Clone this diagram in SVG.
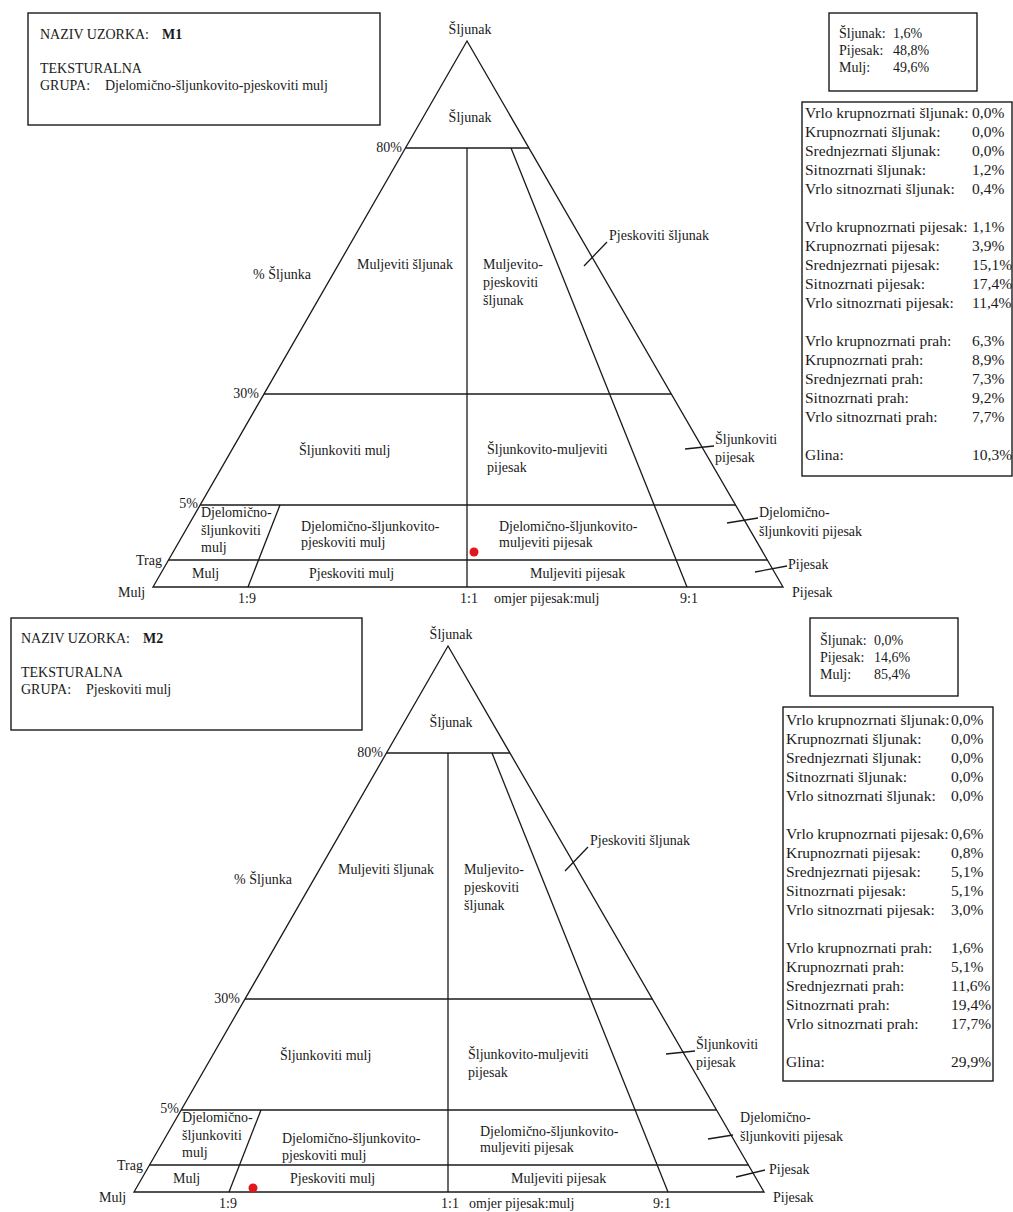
<svg xmlns="http://www.w3.org/2000/svg" width="1013" height="1212" viewBox="0 0 1013 1212">
<style>
text{font-family:"Liberation Serif","Times New Roman",serif;fill:#1a1a1a}
.t{font-size:14px}
.s{font-size:15.5px}
.b{font-weight:bold}
.ln{stroke:#1a1a1a;stroke-width:1.3;fill:none}
.box{stroke:#1a1a1a;stroke-width:1.4;fill:#fff}
.dot{fill:#e3161e}
.m{text-anchor:middle}
.e{text-anchor:end}
</style>
<rect width="1013" height="1212" fill="#fff"/>

<!-- ===== Panel M1 ===== -->
<g id="panel-m1">
  <g id="info-m1">
    <rect class="box" x="28" y="13" width="352" height="112"/>
    <text class="t" x="40" y="39">NAZIV UZORKA: <tspan class="b" x="162">M1</tspan></text>
    <text class="t" x="40" y="73">TEKSTURALNA</text>
    <text class="t" x="40" y="90">GRUPA: <tspan x="105">Djelomično-šljunkovito-pjeskoviti mulj</tspan></text>
  </g>
  <g id="fractions-m1">
    <rect class="box" x="829" y="13" width="148" height="78"/>
    <text class="t" x="839" y="38">Šljunak:</text><text class="t" x="893" y="38">1,6%</text>
    <text class="t" x="839" y="55">Pijesak:</text><text class="t" x="893" y="55">48,8%</text>
    <text class="t" x="839" y="72">Mulj:</text><text class="t" x="893" y="72">49,6%</text>
  </g>
  <g id="classes-m1">
    <rect class="box" x="802" y="102" width="210" height="374"/>
    <text class="s" x="805" y="118">Vrlo krupnozrnati šljunak:</text><text class="s" x="972" y="118">0,0%</text>
    <text class="s" x="805" y="137">Krupnozrnati šljunak:</text><text class="s" x="972" y="137">0,0%</text>
    <text class="s" x="805" y="156">Srednjezrnati šljunak:</text><text class="s" x="972" y="156">0,0%</text>
    <text class="s" x="805" y="175">Sitnozrnati šljunak:</text><text class="s" x="972" y="175">1,2%</text>
    <text class="s" x="805" y="194">Vrlo sitnozrnati šljunak:</text><text class="s" x="972" y="194">0,4%</text>
    <text class="s" x="805" y="232">Vrlo krupnozrnati pijesak:</text><text class="s" x="972" y="232">1,1%</text>
    <text class="s" x="805" y="251">Krupnozrnati pijesak:</text><text class="s" x="972" y="251">3,9%</text>
    <text class="s" x="805" y="270">Srednjezrnati pijesak:</text><text class="s" x="972" y="270">15,1%</text>
    <text class="s" x="805" y="289">Sitnozrnati pijesak:</text><text class="s" x="972" y="289">17,4%</text>
    <text class="s" x="805" y="308">Vrlo sitnozrnati pijesak:</text><text class="s" x="972" y="308">11,4%</text>
    <text class="s" x="805" y="346">Vrlo krupnozrnati prah:</text><text class="s" x="972" y="346">6,3%</text>
    <text class="s" x="805" y="365">Krupnozrnati prah:</text><text class="s" x="972" y="365">8,9%</text>
    <text class="s" x="805" y="384">Srednjezrnati prah:</text><text class="s" x="972" y="384">7,3%</text>
    <text class="s" x="805" y="403">Sitnozrnati prah:</text><text class="s" x="972" y="403">9,2%</text>
    <text class="s" x="805" y="422">Vrlo sitnozrnati prah:</text><text class="s" x="972" y="422">7,7%</text>
    <text class="s" x="805" y="460">Glina:</text><text class="s" x="972" y="460">10,3%</text>
  </g>
  <g id="connectors-m1">
    <polygon class="ln" points="467,41 153,587 783,587"/>
    <line class="ln" x1="405.5" y1="148" x2="528.9" y2="148"/>
    <line class="ln" x1="264" y1="394" x2="671.3" y2="394"/>
    <line class="ln" x1="200.2" y1="505" x2="735.6" y2="505"/>
    <line class="ln" x1="168.5" y1="560" x2="767.4" y2="560"/>
    <line class="ln" x1="467" y1="148" x2="467" y2="587"/>
    <line class="ln" x1="511" y1="148" x2="687" y2="587"/>
    <line class="ln" x1="280" y1="505" x2="248" y2="587"/>
    <line class="ln" x1="584" y1="266" x2="607" y2="242"/>
    <line class="ln" x1="685" y1="449" x2="714" y2="446"/>
    <line class="ln" x1="727" y1="523" x2="758" y2="518"/>
    <line class="ln" x1="755" y1="572" x2="787" y2="566"/>
  </g>
  <g id="labels-m1">
    <text class="t m" x="470" y="34">Šljunak</text>
    <text class="t m" x="470" y="122">Šljunak</text>
    <text class="t e" x="402" y="152">80%</text>
    <text class="t" x="253" y="279">% Šljunka</text>
    <text class="t" x="357" y="269">Muljeviti šljunak</text>
    <text class="t" x="483" y="269">Muljevito-</text>
    <text class="t" x="483" y="287">pjeskoviti</text>
    <text class="t" x="483" y="305">šljunak</text>
    <text class="t" x="609" y="240">Pjeskoviti šljunak</text>
    <text class="t e" x="259" y="398">30%</text>
    <text class="t" x="299" y="455">Šljunkoviti mulj</text>
    <text class="t" x="487" y="454">Šljunkovito-muljeviti</text>
    <text class="t" x="487" y="472">pijesak</text>
    <text class="t" x="715" y="444">Šljunkoviti</text>
    <text class="t" x="715" y="462">pijesak</text>
    <text class="t e" x="198" y="508">5%</text>
    <text class="t" x="201" y="517">Djelomično-</text>
    <text class="t" x="201" y="535">šljunkoviti</text>
    <text class="t" x="201" y="552">mulj</text>
    <text class="t" x="301" y="531">Djelomično-šljunkovito-</text>
    <text class="t" x="301" y="547">pjeskoviti mulj</text>
    <text class="t" x="499" y="531">Djelomično-šljunkovito-</text>
    <text class="t" x="499" y="547">muljeviti pijesak</text>
    <text class="t" x="759" y="517">Djelomično-</text>
    <text class="t" x="759" y="536">šljunkoviti pijesak</text>
    <text class="t" x="136" y="565">Trag</text>
    <text class="t" x="192" y="578">Mulj</text>
    <text class="t" x="309" y="578">Pjeskoviti mulj</text>
    <text class="t" x="530" y="578">Muljeviti pijesak</text>
    <text class="t" x="788" y="569">Pijesak</text>
    <text class="t" x="118" y="597">Mulj</text>
    <text class="t" x="238" y="603">1:9</text>
    <text class="t" x="460" y="603">1:1</text>
    <text class="t" x="494" y="603">omjer pijesak:mulj</text>
    <text class="t" x="680" y="603">9:1</text>
    <text class="t" x="792" y="597">Pijesak</text>
  </g>
  <circle id="sample-m1" class="dot" cx="474" cy="552" r="4.5"/>
</g>

<!-- ===== Panel M2 ===== -->
<g id="panel-m2" transform="translate(-19,605)">
  <g id="info-m2">
    <rect class="box" x="30" y="13" width="351" height="112"/>
    <text class="t" x="40" y="38">NAZIV UZORKA: <tspan class="b" x="162">M2</tspan></text>
    <text class="t" x="40" y="72">TEKSTURALNA</text>
    <text class="t" x="40" y="89">GRUPA: <tspan x="105">Pjeskoviti mulj</tspan></text>
  </g>
  <g id="fractions-m2">
    <rect class="box" x="829" y="13" width="148" height="78"/>
    <text class="t" x="839" y="40">Šljunak:</text><text class="t" x="893" y="40">0,0%</text>
    <text class="t" x="839" y="57">Pijesak:</text><text class="t" x="893" y="57">14,6%</text>
    <text class="t" x="839" y="74">Mulj:</text><text class="t" x="893" y="74">85,4%</text>
  </g>
  <g id="classes-m2">
    <rect class="box" x="802" y="102" width="210" height="374"/>
    <text class="s" x="805" y="120">Vrlo krupnozrnati šljunak:</text><text class="s" x="970" y="120">0,0%</text>
    <text class="s" x="805" y="139">Krupnozrnati šljunak:</text><text class="s" x="970" y="139">0,0%</text>
    <text class="s" x="805" y="158">Srednjezrnati šljunak:</text><text class="s" x="970" y="158">0,0%</text>
    <text class="s" x="805" y="177">Sitnozrnati šljunak:</text><text class="s" x="970" y="177">0,0%</text>
    <text class="s" x="805" y="196">Vrlo sitnozrnati šljunak:</text><text class="s" x="970" y="196">0,0%</text>
    <text class="s" x="805" y="234">Vrlo krupnozrnati pijesak:</text><text class="s" x="970" y="234">0,6%</text>
    <text class="s" x="805" y="253">Krupnozrnati pijesak:</text><text class="s" x="970" y="253">0,8%</text>
    <text class="s" x="805" y="272">Srednjezrnati pijesak:</text><text class="s" x="970" y="272">5,1%</text>
    <text class="s" x="805" y="291">Sitnozrnati pijesak:</text><text class="s" x="970" y="291">5,1%</text>
    <text class="s" x="805" y="310">Vrlo sitnozrnati pijesak:</text><text class="s" x="970" y="310">3,0%</text>
    <text class="s" x="805" y="348">Vrlo krupnozrnati prah:</text><text class="s" x="970" y="348">1,6%</text>
    <text class="s" x="805" y="367">Krupnozrnati prah:</text><text class="s" x="970" y="367">5,1%</text>
    <text class="s" x="805" y="386">Srednjezrnati prah:</text><text class="s" x="970" y="386">11,6%</text>
    <text class="s" x="805" y="405">Sitnozrnati prah:</text><text class="s" x="970" y="405">19,4%</text>
    <text class="s" x="805" y="424">Vrlo sitnozrnati prah:</text><text class="s" x="970" y="424">17,7%</text>
    <text class="s" x="805" y="462">Glina:</text><text class="s" x="970" y="462">29,9%</text>
  </g>
  <g id="connectors-m2">
    <polygon class="ln" points="467,41 153,587 783,587"/>
    <line class="ln" x1="405.5" y1="148" x2="528.9" y2="148"/>
    <line class="ln" x1="264" y1="394" x2="671.3" y2="394"/>
    <line class="ln" x1="200.2" y1="505" x2="735.6" y2="505"/>
    <line class="ln" x1="168.5" y1="560" x2="767.4" y2="560"/>
    <line class="ln" x1="467" y1="148" x2="467" y2="587"/>
    <line class="ln" x1="511" y1="148" x2="687" y2="587"/>
    <line class="ln" x1="280" y1="505" x2="248" y2="587"/>
    <line class="ln" x1="584" y1="266" x2="607" y2="242"/>
    <line class="ln" x1="685" y1="449" x2="714" y2="446"/>
    <line class="ln" x1="727" y1="534" x2="752" y2="530"/>
    <line class="ln" x1="755" y1="572" x2="784" y2="565"/>
  </g>
  <g id="labels-m2">
    <text class="t m" x="470" y="34">Šljunak</text>
    <text class="t m" x="470" y="122">Šljunak</text>
    <text class="t e" x="402" y="152">80%</text>
    <text class="t" x="253" y="279">% Šljunka</text>
    <text class="t" x="357" y="269">Muljeviti šljunak</text>
    <text class="t" x="483" y="269">Muljevito-</text>
    <text class="t" x="483" y="287">pjeskoviti</text>
    <text class="t" x="483" y="305">šljunak</text>
    <text class="t" x="609" y="240">Pjeskoviti šljunak</text>
    <text class="t e" x="259" y="398">30%</text>
    <text class="t" x="299" y="455">Šljunkoviti mulj</text>
    <text class="t" x="487" y="454">Šljunkovito-muljeviti</text>
    <text class="t" x="487" y="472">pijesak</text>
    <text class="t" x="715" y="444">Šljunkoviti</text>
    <text class="t" x="715" y="462">pijesak</text>
    <text class="t e" x="198" y="508">5%</text>
    <text class="t" x="201" y="517">Djelomično-</text>
    <text class="t" x="201" y="535">šljunkoviti</text>
    <text class="t" x="201" y="552">mulj</text>
    <text class="t" x="301" y="538">Djelomično-šljunkovito-</text>
    <text class="t" x="301" y="555">pjeskoviti mulj</text>
    <text class="t" x="499" y="531">Djelomično-šljunkovito-</text>
    <text class="t" x="499" y="547">muljeviti pijesak</text>
    <text class="t" x="759" y="517">Djelomično-</text>
    <text class="t" x="759" y="536">šljunkoviti pijesak</text>
    <text class="t" x="136" y="565">Trag</text>
    <text class="t" x="192" y="578">Mulj</text>
    <text class="t" x="309" y="578">Pjeskoviti mulj</text>
    <text class="t" x="530" y="578">Muljeviti pijesak</text>
    <text class="t" x="788" y="569">Pijesak</text>
    <text class="t" x="118" y="597">Mulj</text>
    <text class="t" x="238" y="603">1:9</text>
    <text class="t" x="460" y="603">1:1</text>
    <text class="t" x="488" y="603">omjer pijesak:mulj</text>
    <text class="t" x="672" y="603">9:1</text>
    <text class="t" x="792" y="597">Pijesak</text>
  </g>
  <circle id="sample-m2" class="dot" cx="272" cy="583" r="4.5"/>
</g>
</svg>
